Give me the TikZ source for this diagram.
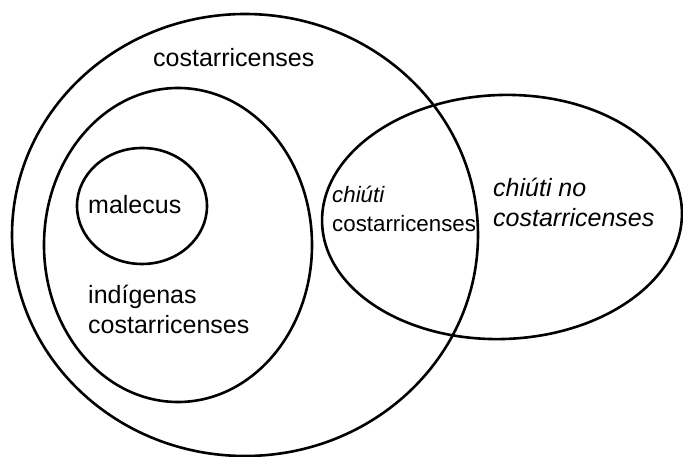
\documentclass[tikz,border=0pt]{standalone}
\usepackage{fontspec}
\setmainfont{Liberation Sans}
\begin{document}
\begin{tikzpicture}[x=1pt,y=-1pt,
  setline/.style={line width=2.6pt,black},
  lbl/.style={anchor=base west,inner sep=0pt,font=\fontsize{25}{30}\selectfont},
  lblsmall/.style={anchor=base west,inner sep=0pt,font=\fontsize{22.3}{27}\selectfont}]
  \useasboundingbox (0,0) rectangle (683,457);
  % sets
  \draw[setline] (245,235) ellipse [x radius=233, y radius=221];
  \draw[setline] (178,245) ellipse [x radius=134, y radius=157];
  \draw[setline] (142,206) ellipse [x radius=65, y radius=58];
  \draw[setline, rotate around={2:(502,217)}] (502,217) ellipse [x radius=180, y radius=122];
  % labels
  \node[lbl] (cr) at (153,67) {costarricenses};
  \node[lbl] (mal) at (88,214) {malecus};
  \node[lbl] (ind1) at (88,303) {indígenas};
  \node[lbl] (ind2) at (88,333) {costarricenses};
  \node[lblsmall] (ch1) at (332,203) {\itshape chiúti};
  \node[lblsmall] (ch2) at (332,232) {costarricenses};
  \node[lbl] (cn1) at (493,197) {\itshape chiúti no};
  \node[lbl] (cn2) at (493,227) {\itshape costarricenses};
\end{tikzpicture}
\end{document}
